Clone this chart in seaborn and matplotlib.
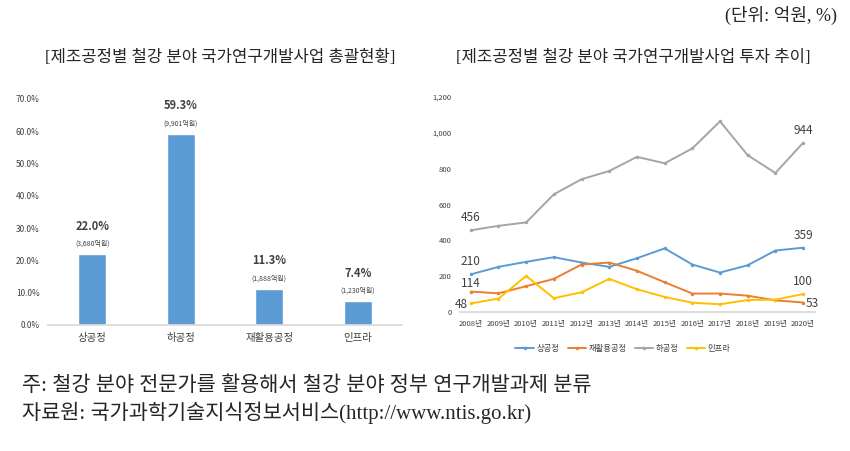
import matplotlib
matplotlib.use("Agg")
import matplotlib.pyplot as plt
import seaborn as sns
import pandas as pd
import numpy as np
from matplotlib.lines import Line2D

sns.set_theme(style="white")
plt.rcParams['font.family'] = ['Noto Sans CJK KR', 'DejaVu Sans']

# ---- data ----
categories = ["상공정", "하공정", "재활용공정", "인프라"]
shares = [22.0, 59.3, 11.3, 7.4]
amounts = ["(3,680억원)", "(9,901억원)", "(1,888억원)", "(1,230억원)"]

years = ["2008년", "2009년", "2010년", "2011년", "2012년", "2013년", "2014년",
         "2015년", "2016년", "2017년", "2018년", "2019년", "2020년"]
upper = [210, 252, 280, 306, 276, 252, 300, 355, 265, 220, 261, 343, 359]
recycle = [114, 104, 144, 185, 265, 276, 230, 166, 103, 103, 91, 65, 53]
lower = [456, 481, 500, 657, 741, 787, 866, 830, 913, 1064, 875, 776, 944]
infra = [48, 75, 201, 77, 110, 185, 127, 84, 52, 43, 67, 69, 100]
series_names = ["상공정", "재활용공정", "하공정", "인프라"]
series_colors = ["#5B9BD5", "#ED7D31", "#A5A5A5", "#FFC000"]

fig = plt.figure(figsize=(8.5, 4.51), dpi=100)

# ---- left: bar chart ----
ax1 = fig.add_axes([48/850, 1-325/451, 354/850, 226/451])
dfb = pd.DataFrame({"cat": categories, "share": shares})
sns.barplot(data=dfb, x="cat", y="share", color="#5B9BD5", width=0.32,
            saturation=1, ax=ax1)
ax1.set_ylim(0, 70)
ax1.set_xlim(-0.5, 3.5)
ax1.set_yticks(np.arange(0, 71, 10))
ax1.set_yticklabels([f"{v:.1f}%" for v in np.arange(0, 71, 10)], fontsize=6,
                    color="#404040")
ax1.set_xticks(range(len(categories)))
ax1.set_xticklabels(categories, fontsize=7.5, color="#404040")
ax1.set_xlabel("")
ax1.set_ylabel("")
for s in ["top", "right", "left"]:
    ax1.spines[s].set_visible(False)
ax1.spines["bottom"].set_color("#D9D9D9")
ax1.tick_params(axis="both", length=0, pad=6)
for i, (v, a) in enumerate(zip(shares, amounts)):
    ax1.annotate(f"{v:.1f}%", (i, v), xytext=(0, 20), textcoords="offset points",
                 ha="center", va="center", fontsize=8, fontweight="bold",
                 color="#404040")
    ax1.annotate(a, (i, v), xytext=(0, 7.5), textcoords="offset points",
                 ha="center", va="center", fontsize=5, color="#404040")

# ---- right: line chart ----
ax2 = fig.add_axes([460/850, 1-312/451, 355/850, 215/451])
x = list(range(len(years)))
dfl = pd.DataFrame({
    "x": x * 4,
    "value": upper + recycle + lower + infra,
    "series": sum([[n] * len(years) for n in series_names], []),
})
sns.lineplot(data=dfl, x="x", y="value", hue="series", hue_order=series_names,
             palette=series_colors, marker="o", markersize=2.5,
             markeredgewidth=0, linewidth=1.4, ax=ax2, legend=False)
ax2.set_ylim(0, 1200)
ax2.set_xlim(-0.39, 12.43)
ax2.set_yticks(range(0, 1201, 200))
ax2.set_yticklabels([f"{v:,}" for v in range(0, 1201, 200)], fontsize=5.5,
                    color="#404040")
ax2.set_xticks(x)
ax2.set_xticklabels(years, fontsize=5.5, color="#404040")
ax2.set_xlabel("")
ax2.set_ylabel("")
for s in ["top", "right", "left"]:
    ax2.spines[s].set_visible(False)
ax2.spines["bottom"].set_color("#D9D9D9")
ax2.tick_params(axis="both", length=0, pad=6)

lab_kw = dict(textcoords="offset points", fontsize=8.5, color="#404040",
              va="center")
ax2.annotate(f"{lower[0]}", (0, lower[0]), xytext=(0, 9), ha="center", **lab_kw)
ax2.annotate(f"{upper[0]}", (0, upper[0]), xytext=(0, 9), ha="center", **lab_kw)
ax2.annotate(f"{recycle[0]}", (0, recycle[0]), xytext=(0, 5.5), ha="center", **lab_kw)
ax2.annotate(f"{infra[0]}", (0, infra[0]), xytext=(-2, -0.5), ha="right", **lab_kw)
ax2.annotate(f"{lower[-1]}", (12, lower[-1]), xytext=(0, 9), ha="center", **lab_kw)
ax2.annotate(f"{upper[-1]}", (12, upper[-1]), xytext=(0, 9), ha="center", **lab_kw)
ax2.annotate(f"{infra[-1]}", (12, infra[-1]), xytext=(0, 9), ha="center", **lab_kw)
ax2.annotate(f"{recycle[-1]}", (12, recycle[-1]), xytext=(2, -1), ha="left", **lab_kw)

handles = [Line2D([0], [0], color=c, lw=1.4, marker="o", markersize=2.5,
                  markeredgewidth=0) for c in series_colors]
fig.legend(handles, series_names, loc="center", bbox_to_anchor=(623/850, 1-348/451),
           ncol=4, frameon=False, fontsize=6, handlelength=2.2, handletextpad=0.3,
           columnspacing=1.0, labelcolor="#404040")

# ---- texts ----
serif_kr = ["Liberation Serif", "Noto Sans CJK KR"]
fig.text(837/850, 1-15/451, "(단위: 억원, %)", ha="right", va="center",
         fontsize=13, family=serif_kr)
fig.text(220/850, 1-58/451, "[제조공정별 철강 분야 국가연구개발사업 총괄현황]",
         ha="center", va="center", fontsize=12, family=serif_kr)
fig.text(633/850, 1-58/451, "[제조공정별 철강 분야 국가연구개발사업 투자 추이]",
         ha="center", va="center", fontsize=12, family=serif_kr)
fig.text(22/850, 1-386/451, "주: 철강 분야 전문가를 활용해서 철강 분야 정부 연구개발과제 분류",
         ha="left", va="center", fontsize=15, family=serif_kr)
fig.text(22/850, 1-413/451, "자료원: 국가과학기술지식정보서비스(http://www.ntis.go.kr)",
         ha="left", va="center", fontsize=15, family=serif_kr)

fig.savefig("out.png", dpi=100)
